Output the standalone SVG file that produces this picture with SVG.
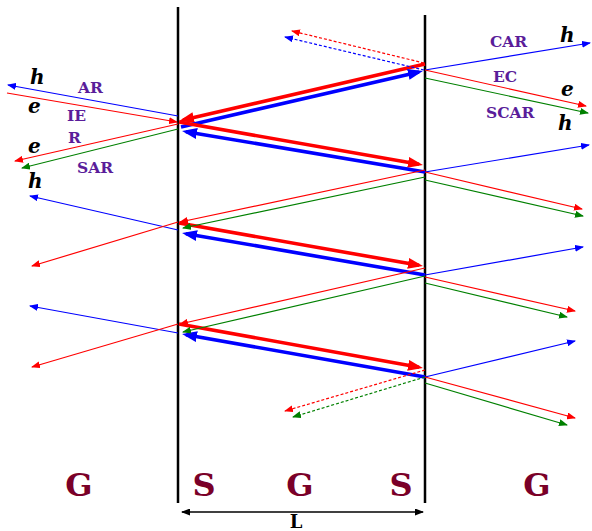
<svg xmlns="http://www.w3.org/2000/svg" width="592" height="531" viewBox="0 0 592 531">
<style>
.thin{fill:none;stroke-width:1.2}
.dot{fill:none;stroke-width:1.2;stroke-dasharray:3,2}
.thick{fill:none;stroke-width:3.6}
.r{stroke:#ff0000}.b{stroke:#0000ff}.g{stroke:#008000}
.lbl{font-family:"DejaVu Serif","Liberation Serif",serif;font-weight:bold;font-size:15.5px;fill:#5a1d9a}
.reg{font-family:"DejaVu Serif","Liberation Serif",serif;font-weight:bold;font-size:32px;fill:#7a0028;text-anchor:middle}
.qp{font-family:"DejaVu Serif","Liberation Serif",serif;font-weight:bold;font-style:italic;font-size:20px;fill:#000}
</style>
<defs>
<marker id="tr" markerUnits="userSpaceOnUse" markerWidth="9" markerHeight="7" refX="8" refY="3.5" orient="auto"><path d="M0,0 L9,3.5 L0,7 z" fill="#ff0000"/></marker>
<marker id="tb" markerUnits="userSpaceOnUse" markerWidth="9" markerHeight="7" refX="8" refY="3.5" orient="auto"><path d="M0,0 L9,3.5 L0,7 z" fill="#0000ff"/></marker>
<marker id="tg" markerUnits="userSpaceOnUse" markerWidth="9" markerHeight="7" refX="8" refY="3.5" orient="auto"><path d="M0,0 L9,3.5 L0,7 z" fill="#008000"/></marker>
<marker id="Tr" markerUnits="userSpaceOnUse" markerWidth="15" markerHeight="11" refX="11" refY="5.5" orient="auto"><path d="M0,0 L15,5.5 L0,11 z" fill="#ff0000"/></marker>
<marker id="Tb" markerUnits="userSpaceOnUse" markerWidth="15" markerHeight="11" refX="11" refY="5.5" orient="auto"><path d="M0,0 L15,5.5 L0,11 z" fill="#0000ff"/></marker>
<marker id="tk" markerUnits="userSpaceOnUse" markerWidth="9" markerHeight="7" refX="8" refY="3.5" orient="auto-start-reverse"><path d="M0,0 L9,3.5 L0,7 z" fill="#000"/></marker>
</defs>

<g id="interfaces" stroke="#000" stroke-width="2.5">
<line x1="178" y1="7" x2="178" y2="503"/>
<line x1="425" y1="15" x2="425" y2="503"/>
</g>

<g id="connectors">
<path class="thick r" d="M425,64 L183,120" marker-end="url(#Tr)"/>
<path class="thick b" d="M181,127 L419,72" marker-end="url(#Tb)"/>
<path class="thick r" d="M179,122 L419,164.3" marker-end="url(#Tr)"/>
<path class="thick b" d="M425,172 L186,131.7" marker-end="url(#Tb)"/>
<path class="thick r" d="M179,223 L419,265.3" marker-end="url(#Tr)"/>
<path class="thick b" d="M425,275 L186,233.7" marker-end="url(#Tb)"/>
<path class="thick r" d="M179,324 L419,367.3" marker-end="url(#Tr)"/>
<path class="thick b" d="M425,377 L186,334.7" marker-end="url(#Tb)"/>

<path class="thin b" d="M178,116 L8,85" marker-end="url(#tb)"/>
<path class="thin r" d="M7,93 L177,122" marker-end="url(#tr)"/>
<path class="thin r" d="M178,124 L15,161" marker-end="url(#tr)"/>
<path class="thin g" d="M178,129 L22,168" marker-end="url(#tg)"/>
<path class="thin b" d="M178,230 L30,196" marker-end="url(#tb)"/>
<path class="thin r" d="M178,222 L32,266" marker-end="url(#tr)"/>
<path class="thin b" d="M178,333 L30,306" marker-end="url(#tb)"/>
<path class="thin r" d="M178,324 L32,367" marker-end="url(#tr)"/>

<path class="thin r" d="M425,170 L180,222" marker-end="url(#tr)"/>
<path class="thin g" d="M425,177 L183,228" marker-end="url(#tg)"/>
<path class="thin r" d="M425,268 L180,324" marker-end="url(#tr)"/>
<path class="thin g" d="M425,276 L183,332" marker-end="url(#tg)"/>

<path class="thin b" d="M425,70 L590,43" marker-end="url(#tb)"/>
<path class="thin r" d="M425,70 L586,106" marker-end="url(#tr)"/>
<path class="thin g" d="M425,78 L588,113" marker-end="url(#tg)"/>
<path class="dot r" d="M424,63 L292,31" marker-end="url(#tr)"/>
<path class="dot b" d="M424,70 L285,37" marker-end="url(#tb)"/>

<path class="thin b" d="M425,172 L589,145" marker-end="url(#tb)"/>
<path class="thin r" d="M425,172 L582,209" marker-end="url(#tr)"/>
<path class="thin g" d="M425,180 L583,216" marker-end="url(#tg)"/>

<path class="thin b" d="M425,275 L583,247" marker-end="url(#tb)"/>
<path class="thin r" d="M425,277 L575,311" marker-end="url(#tr)"/>
<path class="thin g" d="M425,283 L567,317" marker-end="url(#tg)"/>

<path class="thin b" d="M425,377 L575,341" marker-end="url(#tb)"/>
<path class="thin r" d="M425,377 L575,418" marker-end="url(#tr)"/>
<path class="thin g" d="M425,383 L567,425" marker-end="url(#tg)"/>
<path class="dot r" d="M425,370 L285,411" marker-end="url(#tr)"/>
<path class="dot g" d="M425,377 L293,417" marker-end="url(#tg)"/>

<line x1="182" y1="512" x2="423" y2="512" stroke="#000" stroke-width="1.5" marker-start="url(#tk)" marker-end="url(#tk)"/>
</g>

<g id="labels">
<text class="lbl" x="78" y="93">AR</text>
<text class="lbl" x="67" y="121">IE</text>
<text class="lbl" x="68" y="143">R</text>
<text class="lbl" x="77" y="173">SAR</text>
<text class="lbl" x="490" y="47">CAR</text>
<text class="lbl" x="493" y="82">EC</text>
<text class="lbl" x="486" y="118">SCAR</text>
<text class="qp" x="30" y="84">h</text>
<text class="qp" x="28" y="113">e</text>
<text class="qp" x="28" y="153">e</text>
<text class="qp" x="28" y="188">h</text>
<text class="qp" x="560" y="42">h</text>
<text class="qp" x="561" y="96">e</text>
<text class="qp" x="558" y="130">h</text>
</g>

<g id="regions">
<text class="reg" x="79" y="496">G</text>
<text class="reg" x="204" y="496">S</text>
<text class="reg" x="300" y="496">G</text>
<text class="reg" x="401" y="496">S</text>
<text class="reg" x="537" y="496">G</text>
<text x="296" y="528" font-family="DejaVu Serif, Liberation Serif, serif" font-weight="bold" font-size="18" text-anchor="middle" fill="#000">L</text>
</g>
</svg>
